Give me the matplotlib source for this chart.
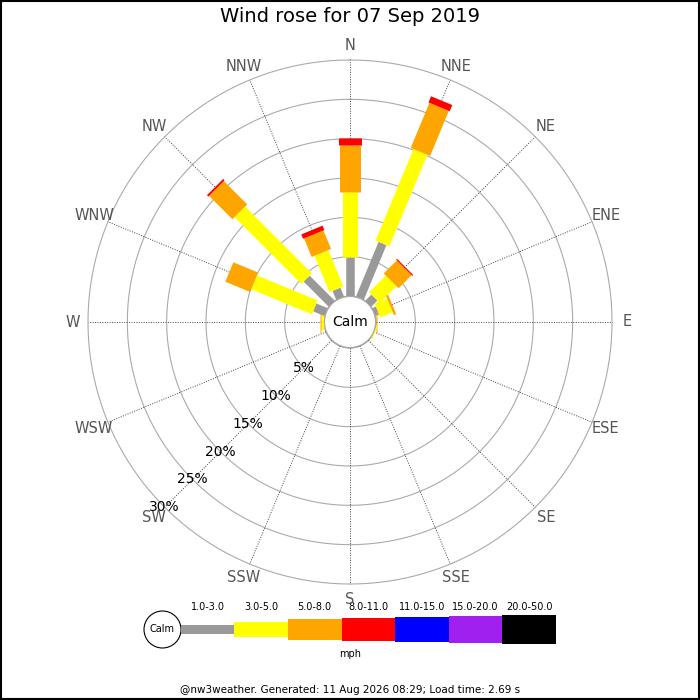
import numpy as np
import matplotlib
matplotlib.use('Agg')
import matplotlib.pyplot as plt
from matplotlib.patches import Rectangle, Circle

# Wind data for 07 Sep 2019 (percent of time, per speed band)
directions = ['N', 'NNE', 'NE', 'ENE', 'E', 'ESE', 'SE', 'SSE',
              'S', 'SSW', 'SW', 'WSW', 'W', 'WNW', 'NW', 'NNW']
spd_1_3 = [5.0, 7.5, 1.1, 0.5, 0, 0, 0, 0, 0, 0, 0, 0, 0, 1.55, 4.5, 1.2]
spd_3_5 = [8.25, 12.6, 3.0, 1.7, 0, 0.15, 0, 0, 0, 0, 0, 0, 0.4, 8.35, 12.0, 5.0]
spd_5_8 = [5.95, 6.2, 2.35, 0.3, 0.15, 0, 0, 0, 0, 0, 0, 0, 0.1, 3.4, 4.2, 2.55]
spd_8_11 = [0.9, 0.85, 0.15, 0, 0, 0, 0, 0, 0, 0, 0, 0, 0, 0, 0.25, 0.6]

bands = ['1.0-3.0', '3.0-5.0', '5.0-8.0', '8.0-11.0', '11.0-15.0', '15.0-20.0', '20.0-50.0']
band_colors = ['#999999', '#ffff00', '#ffa500', '#ff0000', '#0000ff', '#a020f0', '#000000']
band_px = [8.5, 15, 21, 23, 25, 26.7, 28.3]   # bar thickness in pixels
rings = [5, 10, 15, 20, 25, 30]

title = 'Wind rose for 07 Sep 2019'
footer = '@nw3weather. Generated: 11 Aug 2026 08:29; Load time: 2.69 s'

OFF = 3.3          # calm circle radius in % units
RMAX = 30
W = H = 700

fig = plt.figure(figsize=(7, 7), dpi=100)

# overlay axes in pixel coords for legend, frame, texts
ov = fig.add_axes([0, 0, 1, 1])
ov.set_xlim(0, W)
ov.set_ylim(H, 0)
ov.axis('off')

# polar rose: center (350, 322) px, radius 262 px
cx, cy, R = 350, 322, 262
ax = fig.add_axes([(cx - R) / W, 1 - (cy + R) / H, 2 * R / W, 2 * R / H],
                  projection='polar')
ax.set_theta_zero_location('N')
ax.set_theta_direction(-1)
ax.set_ylim(0, RMAX + OFF)
ax.axis('off')

full = np.linspace(0, 2 * np.pi, 361)
for r in [0] + rings:
    ax.plot(full, np.full_like(full, r + OFF), color='#aaaaaa', lw=0.8,
            clip_on=False, zorder=1)

thetas = np.deg2rad(np.arange(16) * 22.5)
for th, name in zip(thetas, directions):
    ax.plot([th, th], [OFF, RMAX + OFF], color='#444444', lw=0.7,
            ls=(0, (1, 1.5)), clip_on=False, zorder=1)
    ax.text(th, RMAX + OFF + 15 / R * (RMAX + OFF), name, ha='center',
            va='center', fontsize=10.5, color='#555555')

# stacked bars, drawn as thick radial lines (constant pixel width)
series = [spd_1_3, spd_3_5, spd_5_8, spd_8_11]
pt = 0.72
for i, th in enumerate(thetas):
    base = OFF
    for k, vals in enumerate(series):
        v = vals[i]
        if v > 0:
            ax.plot([th, th], [base, base + v], color=band_colors[k],
                    lw=band_px[k] * pt, solid_capstyle='butt',
                    clip_on=False, zorder=3)
        base += v

for r in rings:
    ax.text(np.deg2rad(225), r + OFF, f'{r}%', ha='center', va='center',
            fontsize=10, color='black', zorder=4)

# calm circle in the middle
ov.add_patch(Circle((cx, cy), 26, facecolor='white', edgecolor='#999999',
                    lw=0.8, zorder=5))
ax.set_zorder(2)
ov.set_zorder(1)
ov.patch.set_visible(False)
calm_ax = fig.add_axes([0, 0, 1, 1])
calm_ax.set_xlim(0, W)
calm_ax.set_ylim(H, 0)
calm_ax.axis('off')
calm_ax.set_zorder(3)
calm_ax.add_patch(Circle((cx, cy), 25.5, facecolor='white', edgecolor='#aaaaaa',
                         lw=0.8))
calm_ax.text(cx, cy, 'Calm', ha='center', va='center', fontsize=10)

# title and footer
ov.text(350, 17, title, ha='center', va='center', fontsize=14)
ov.text(350, 690, footer, ha='center', va='center', fontsize=7.5)

# legend
lx, ly, seg = 180.7, 629.5, 53.6
ov.add_patch(Circle((162.5, ly), 18.5, facecolor='white', edgecolor='black', lw=0.8))
ov.text(162.5, ly, 'Calm', ha='center', va='center', fontsize=7)
for k, (lab, col, hpx) in enumerate(zip(bands, band_colors, band_px)):
    x0 = lx + k * seg
    ov.add_patch(Rectangle((x0, ly - hpx / 2), seg, hpx, facecolor=col,
                           edgecolor='none'))
    ov.text(x0 + seg / 2, 607, lab, ha='center', va='center', fontsize=7)
ov.text(350, 654, 'mph', ha='center', va='center', fontsize=7)

# frame
ov.add_patch(Rectangle((0.5, 0.5), W - 1.5, H - 1.5, facecolor='none',
                       edgecolor='black', lw=1.5))

fig.savefig('out.png', dpi=100)
